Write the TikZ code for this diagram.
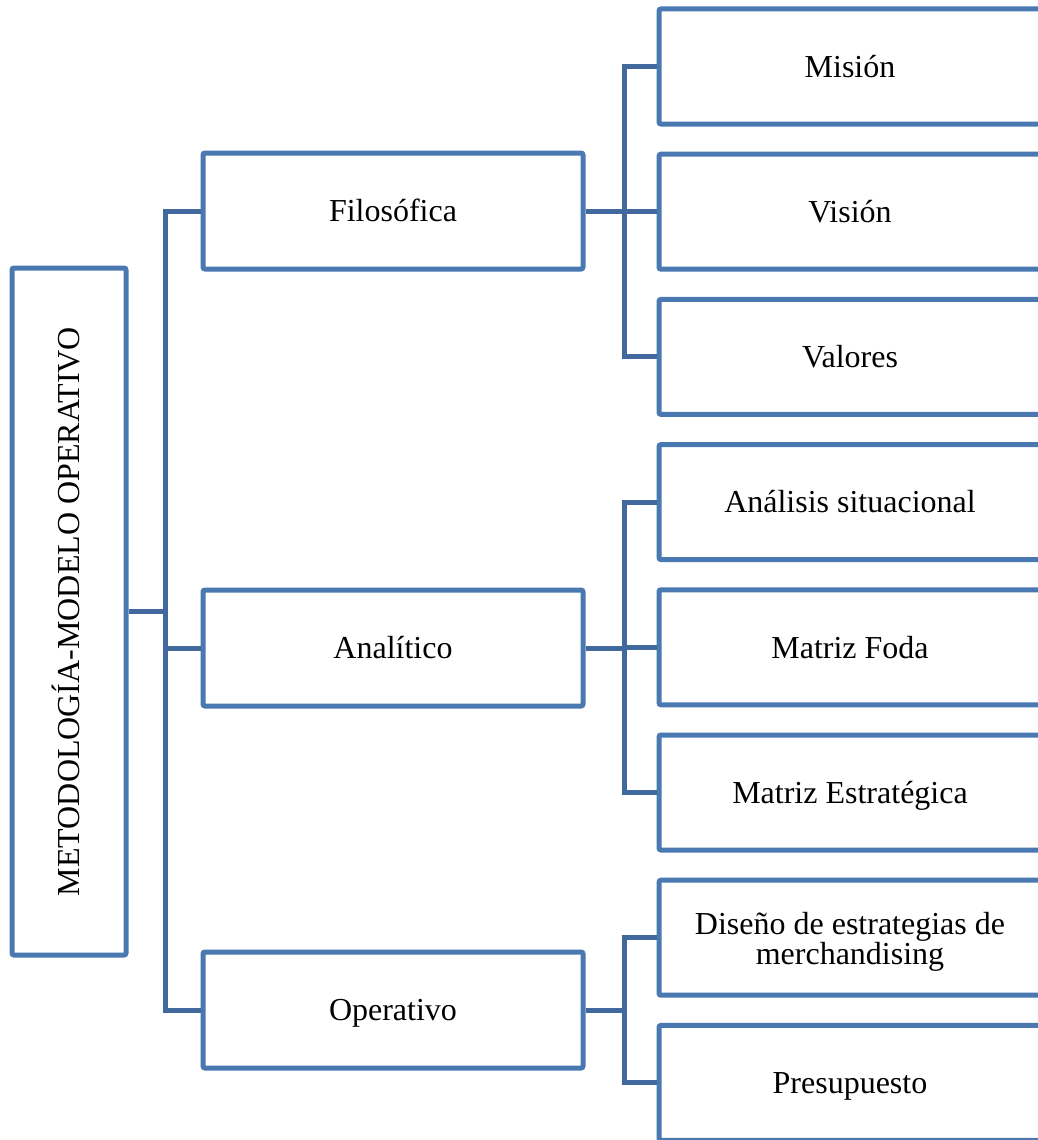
\documentclass[tikz,border=0pt]{standalone}
\usepackage{fontspec}
\setmainfont{Liberation Serif}
\usetikzlibrary{positioning}
\definecolor{boxblue}{HTML}{4A78B0}
\definecolor{lineblue}{HTML}{41699D}

\begin{document}
\begin{tikzpicture}[x=1pt,y=-1pt,
  caja/.style={draw=boxblue,line width=5pt,rounded corners=2pt,fill=white,inner sep=0pt,
    align=center,text height=21.5pt,text depth=0pt,font=\fontsize{32}{29}\selectfont},
  rama/.style={draw=lineblue,line width=5pt}]

\useasboundingbox (0,0) rectangle (1038,1140);
\clip (0,0) rectangle (1038,1140);

% root box
\node[caja,minimum width=687pt,minimum height=114pt,rotate=90] (meto) at (69,611.5) {METODOLOGÍA-MODELO OPERATIVO};

% first level
\foreach \y/\name/\texto in {211/fil/Filosófica, 648/ana/Analítico, 1010/ope/Operativo}
{
  \node[caja,minimum width=380pt,minimum height=116pt] (\name) at (393,\y) {\texto};
  \draw[rama] (meto.south) -- ++(37,0) |- (\name.west);
}

% second level
\foreach \texto/\padre/\alto [count=\i] in {Misión/fil/21.5, Visión/fil/21.5, Valores/fil/21.5,
  Análisis situacional/ana/21.5, Matriz Foda/ana/21.5, Matriz Estratégica/ana/21.5,
  {Diseño de estrategias de\\merchandising}/ope/54, Presupuesto/ope/21.5}
{
  \pgfmathsetmacro\yy{66.5+145.2*(\i-1)}
  \node[caja,minimum width=382pt,minimum height=115pt,text height=\alto pt] (hoja\i) at (850,\yy) {\texto};
  \draw[rama] (\padre.east) -- ++(39,0) |- (hoja\i.west);
}
\end{tikzpicture}
\end{document}
